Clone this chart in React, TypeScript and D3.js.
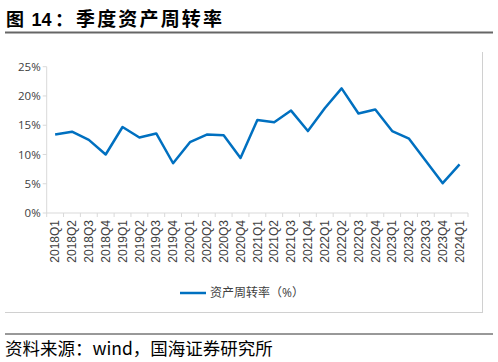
import { useEffect, useRef } from 'react';
import * as d3 from 'd3';

const quarters = [
  '2018Q1', '2018Q2', '2018Q3', '2018Q4',
  '2019Q1', '2019Q2', '2019Q3', '2019Q4',
  '2020Q1', '2020Q2', '2020Q3', '2020Q4',
  '2021Q1', '2021Q2', '2021Q3', '2021Q4',
  '2022Q1', '2022Q2', '2022Q3', '2022Q4',
  '2023Q1', '2023Q2', '2023Q3', '2023Q4',
  '2024Q1',
];
const turnover = [
  13.4, 13.9, 12.5, 10.0,
  14.7, 12.9, 13.6, 8.5,
  12.1, 13.4, 13.3, 9.4,
  15.9, 15.5, 17.5, 14.0,
  17.9, 21.3, 17.0, 17.7,
  14.0, 12.7, 8.9, 5.1,
  8.3,
];
const yTicks = [0, 5, 10, 15, 20, 25];
const seriesName = '资产周转率（%）';

const W = 498;
const H = 362;
const FONT = '"Open Sans", "Noto Sans CJK SC", sans-serif';
const CJK = '"Noto Sans CJK SC", sans-serif';
const ARIAL = '"Liberation Sans", Arial, sans-serif';

export default function App() {
  const svgRef = useRef<SVGSVGElement>(null);

  useEffect(() => {
    const svg = d3.select(svgRef.current);
    svg.selectAll('*').remove();

    const left = 46.7, right = 468, top = 66.7, bottom = 213;
    const x = d3.scaleBand().domain(quarters).range([left, right]);
    const y = d3.scaleLinear().domain([0, 25]).range([bottom, top]);

    // title
    const title = svg.append('g').attr('font-weight', 700).attr('fill', '#000');
    title.append('text').attr('x', 6).attr('y', 26).attr('font-family', CJK)
      .attr('font-size', 18).text('图');
    title.append('text').attr('x', 31.5).attr('y', 26).attr('font-family', ARIAL)
      .attr('font-size', 18).text('14');
    title.append('text').attr('x', 55).attr('y', 26).attr('font-family', CJK)
      .attr('font-size', 18).text('：');
    title.append('text').attr('x', 76).attr('y', 26).attr('font-family', CJK)
      .attr('font-size', 19).attr('textLength', 146).attr('lengthAdjust', 'spacing')
      .text('季度资产周转率');
    svg.append('line').attr('x1', 5).attr('x2', 493).attr('y1', 32.5).attr('y2', 32.5)
      .attr('stroke', '#666').attr('stroke-width', 2);

    // chart frame (right + bottom edges)
    svg.append('line').attr('x1', 482.5).attr('x2', 482.5).attr('y1', 52).attr('y2', 312.5)
      .attr('stroke', '#d0d0d0').attr('stroke-width', 1);
    svg.append('line').attr('x1', 5).attr('x2', 483).attr('y1', 312.5).attr('y2', 312.5)
      .attr('stroke', '#d0d0d0').attr('stroke-width', 1);

    // y axis
    const g = svg.append('g');
    g.append('line').attr('x1', left).attr('x2', left).attr('y1', top).attr('y2', bottom)
      .attr('stroke', '#d9d9d9');
    yTicks.forEach(t => {
      g.append('line').attr('x1', left - 4).attr('x2', left).attr('y1', y(t)).attr('y2', y(t))
        .attr('stroke', '#d9d9d9');
      g.append('text').attr('x', left - 6).attr('y', y(t)).attr('dy', '0.35em')
        .attr('text-anchor', 'end').attr('font-family', FONT).attr('font-size', 11.5)
        .attr('fill', '#404040').text(`${t}%`);
    });

    // x axis
    g.append('line').attr('x1', left).attr('x2', right).attr('y1', bottom).attr('y2', bottom)
      .attr('stroke', '#d9d9d9');
    [...quarters.map(q => x(q)!), right].forEach(px => {
      g.append('line').attr('x1', px).attr('x2', px).attr('y1', bottom).attr('y2', bottom + 4)
        .attr('stroke', '#d9d9d9');
    });
    quarters.forEach(q => {
      const cx = x(q)! + x.bandwidth() / 2;
      g.append('text')
        .attr('transform', `translate(${cx},${bottom + 7}) rotate(-90)`)
        .attr('dy', '0.35em').attr('text-anchor', 'end')
        .attr('font-family', ARIAL).attr('font-size', 12).attr('fill', '#404040')
        .text(q);
    });

    // line
    const line = d3.line<number>()
      .x((_, i) => x(quarters[i])! + x.bandwidth() / 2)
      .y(d => y(d));
    svg.append('path').datum(turnover).attr('d', line)
      .attr('fill', 'none').attr('stroke', '#0070c0').attr('stroke-width', 2.5)
      .attr('stroke-linejoin', 'round');

    // legend
    svg.append('line').attr('x1', 180).attr('x2', 206).attr('y1', 293).attr('y2', 293)
      .attr('stroke', '#0070c0').attr('stroke-width', 2.5);
    svg.append('text').attr('x', 210).attr('y', 293).attr('dy', '0.35em')
      .attr('font-family', FONT).attr('font-size', 12).attr('fill', '#404040')
      .text(seriesName);

    // footer
    svg.append('line').attr('x1', 5).attr('x2', 493).attr('y1', 334).attr('y2', 334)
      .attr('stroke', '#333').attr('stroke-width', 1);
    svg.append('text').attr('x', 5).attr('y', 355)
      .attr('font-family', CJK).attr('font-size', 17.5).attr('fill', '#000')
      .text('资料来源：wind，国海证券研究所');
  }, []);

  return (
    <svg ref={svgRef} width={W} height={H}
      style={{ position: 'absolute', left: 0, top: 0, background: '#fff' }} />
  );
}
